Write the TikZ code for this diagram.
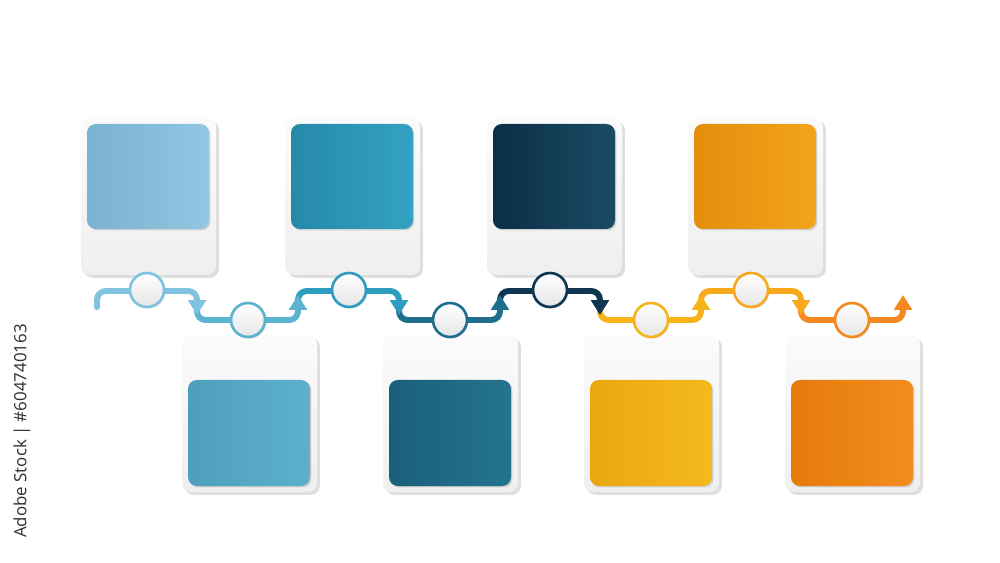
\documentclass[tikz,border=0pt]{standalone}
\usepackage{fontspec}
\newfontfamily\wmfont{Open Sans}
\usetikzlibrary{shadows,arrows.meta}
\definecolor{Lone}{HTML}{80C3E0}
\definecolor{Ltwo}{HTML}{5BB3D0}
\definecolor{Lthree}{HTML}{2E9DC0}
\definecolor{Lfour}{HTML}{1F6F8C}
\definecolor{Lfive}{HTML}{0E3650}
\definecolor{Lsix}{HTML}{F6B41A}
\definecolor{Lseven}{HTML}{F8A81C}
\definecolor{Leight}{HTML}{F5881E}
\definecolor{cardtop}{HTML}{FBFBFB}
\definecolor{cardgray}{HTML}{EFEFEF}
\definecolor{circgray}{HTML}{E6E6E6}
\definecolor{wmgray}{HTML}{2E2E2E}
\tikzset{
  cardbox/.style={rounded corners=5pt, top color=cardtop, bottom color=cardgray,
    drop shadow={shadow xshift=1.6pt, shadow yshift=-1.6pt, opacity=0.18, fill=black!70}},
  squarebox/.style={rounded corners=5pt,
    drop shadow={shadow xshift=0.8pt, shadow yshift=-0.8pt, opacity=0.2, fill=black!70}},
  link/.style={line width=3.4pt, rounded corners=5pt, -{Triangle[length=8.5pt,width=10pt]}},
  circ/.style={circle, minimum size=0.68cm, inner sep=0pt, line width=1.5pt,
    top color=white, bottom color=circgray,
    drop shadow={shadow xshift=0.8pt, shadow yshift=-0.8pt, opacity=0.2, fill=black!70}},
  wm/.style={font=\wmfont\fontsize{9.6}{11}\selectfont, text=wmgray, rotate=90, inner sep=0pt}
}
\begin{document}
\begin{tikzpicture}[x=0.02cm,y=-0.02cm]
\useasboundingbox[fill=white] (0,0) rectangle (1000,563);

% top cards
\foreach \x/\ca/\cb in {81/7AB2D0/90C7E1, 285/2689AA/33A2C2, 487/0A2E47/1B4B63, 688/E38F0C/F3A31C}{
  \definecolor{ca}{HTML}{\ca}\definecolor{cb}{HTML}{\cb}
  \path[cardbox] (\x,118) rectangle ++(135,157);
  \path[squarebox, left color=ca, right color=cb] (\x+6,124) rectangle ++(122,105);
}
% bottom cards
\foreach \x/\ca/\cb in {182/4E9FBD/5DB0CD, 383/1A5F7A/24748F, 584/E9A70F/F4B91E, 785/E67B0C/F28D1C}{
  \definecolor{ca}{HTML}{\ca}\definecolor{cb}{HTML}{\cb}
  \path[cardbox] (\x,335) rectangle ++(135,157);
  \path[squarebox, left color=ca, right color=cb] (\x+6,380) rectangle ++(122,106);
}

% connectors (drawn last-to-first so arrowheads overlap next segment)
\coordinate (s0) at (97,307);
\coordinate (d1) at (197,315);
\coordinate (u1) at (298,295);
\coordinate (d2) at (399,315);
\coordinate (u2) at (500,295);
\coordinate (d3) at (600,315);
\coordinate (u3) at (701,295);
\coordinate (d4) at (801,315);
\coordinate (u4) at (903,295);

\draw[link, draw=Leight] (801,308) |- (852,320) -| (u4);
\draw[link, draw=Lseven] (701,302) |- (751,291) -| (d4);
\draw[link, draw=Lsix] (600,308) |- (651,320) -| (u3);
\draw[link, draw=Lfive] (500,302) |- (550,291) -| (d3);
\draw[link, draw=Lfour] (399,308) |- (450,320) -| (u2);
\draw[link, draw=Lthree] (298,302) |- (349,291) -| (d2);
\draw[link, draw=Ltwo] (197,308) |- (248,320) -| (u1);
\draw[link, draw=Lone, line cap=round] (s0) |- (147,291) -| (d1);

% circles
\node[circ, draw=Lone]   (n1) at (147,290) {};
\node[circ, draw=Ltwo]   (n2) at (248,320) {};
\node[circ, draw=Lthree] (n3) at (349,290) {};
\node[circ, draw=Lfour]  (n4) at (450,320) {};
\node[circ, draw=Lfive]  (n5) at (550,290) {};
\node[circ, draw=Lsix]   (n6) at (651,320) {};
\node[circ, draw=Lseven] (n7) at (751,290) {};
\node[circ, draw=Leight] (n8) at (852,320) {};

% vertical stock id
\node[wm, anchor=east] (wm) at (22,324) {Adobe Stock | \#604740163};
\end{tikzpicture}
\end{document}
